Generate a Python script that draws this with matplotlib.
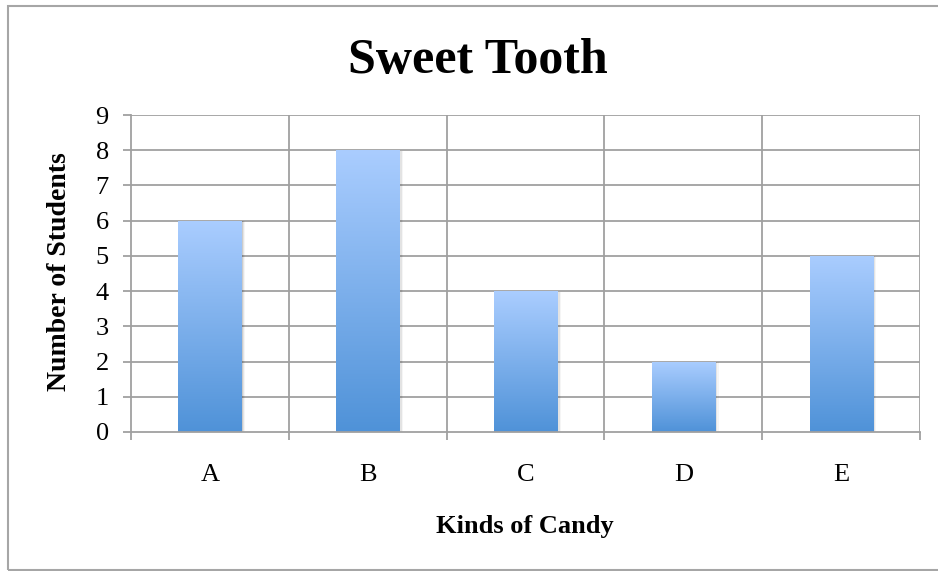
import numpy as np
import matplotlib
matplotlib.use("Agg")
import matplotlib.pyplot as plt
from matplotlib.colors import LinearSegmentedColormap
from matplotlib.patches import Rectangle

categories = ["A", "B", "C", "D", "E"]
students = [6, 8, 4, 2, 5]
y_ticks = list(range(0, 10))

title = "Sweet Tooth"
x_label = "Kinds of Candy"
y_label = "Number of Students"

W, H = 938, 571
fig = plt.figure(figsize=(W / 100, H / 100), dpi=100)
plt.rcParams['font.family'] = ['Liberation Serif', 'DejaVu Serif']

# outer border (right edge falls beyond the picture)
fig.patches.append(Rectangle((8 / W, 1 - 570 / H), 1.2, (570 - 6) / H,
                             transform=fig.transFigure, fill=False,
                             edgecolor='#a6a6a6', linewidth=1.5))

ax = fig.add_axes([131 / W, 1 - 432 / H, (920 - 131) / W, (432 - 115) / H])

grid_c = '#a0a0a0'
x = np.arange(len(categories))
ax.set_xlim(-0.5, len(categories) - 0.5)
ax.set_ylim(0, 9)

# grid
for yv in y_ticks[1:]:
    ax.axhline(yv, color=grid_c, lw=1.3, zorder=1)
for xv in np.arange(-0.5, len(categories), 1.0)[1:]:
    ax.axvline(xv, color=grid_c, lw=1.3, zorder=1)

bar_w = 0.40
bars = ax.bar(x, students, width=bar_w, color='none', edgecolor='none', zorder=3)

cmap = LinearSegmentedColormap.from_list('g', ['#4f92d8', '#aacdff'])
grad = np.linspace(0, 1, 256).reshape(-1, 1)
for b in bars:
    x0, y0 = b.get_x(), b.get_y()
    w, h = b.get_width(), b.get_height()
    # soft shadow
    for i, a in enumerate([0.10, 0.07, 0.04]):
        dx = 0.006 * (i + 1)
        dy = 0.025 * (i + 1)
        ax.add_patch(Rectangle((x0 + dx * 0.3, y0), w + dx, h - dy * 0.3,
                               facecolor='#000000', alpha=a, edgecolor='none', zorder=2))
    im = ax.imshow(grad, extent=(x0, x0 + w, y0, y0 + h), origin='lower',
                   cmap=cmap, aspect='auto', zorder=3, interpolation='bicubic')
    im.set_clip_path(b)

ax.set_xlim(-0.5, len(categories) - 0.5)
ax.set_ylim(0, 9)

for s in ['top', 'right']:
    ax.spines[s].set_visible(False)
for s in ['left', 'bottom']:
    ax.spines[s].set_color(grid_c)
    ax.spines[s].set_linewidth(1.3)
    ax.spines[s].set_zorder(4)

ax.set_yticks(y_ticks)
ax.set_yticklabels([str(v) for v in y_ticks])
ax.set_xticks(x)
ax.set_xticklabels(categories)
ax.set_xticks(np.arange(-0.5, len(categories), 1.0), minor=True)

ax.tick_params(axis='y', direction='out', length=6, width=1.3, color=grid_c,
               labelsize=19, pad=10)
ax.tick_params(axis='x', which='major', length=0, labelsize=19, pad=23)
ax.tick_params(axis='x', which='minor', direction='out', length=6, width=1.3, color=grid_c)

fig.text(477.5 / W, 1 - 73 / H, title, ha='center', va='baseline',
         fontsize=36, fontweight='bold')
fig.text(525 / W, 1 - 533 / H, x_label, ha='center', va='baseline',
         fontsize=19, fontweight='bold')
fig.text(59 / W, 1 - 272 / H, y_label, ha='center', va='center', rotation=90,
         fontsize=20, fontweight='bold')

fig.savefig('out.png', dpi=100)
